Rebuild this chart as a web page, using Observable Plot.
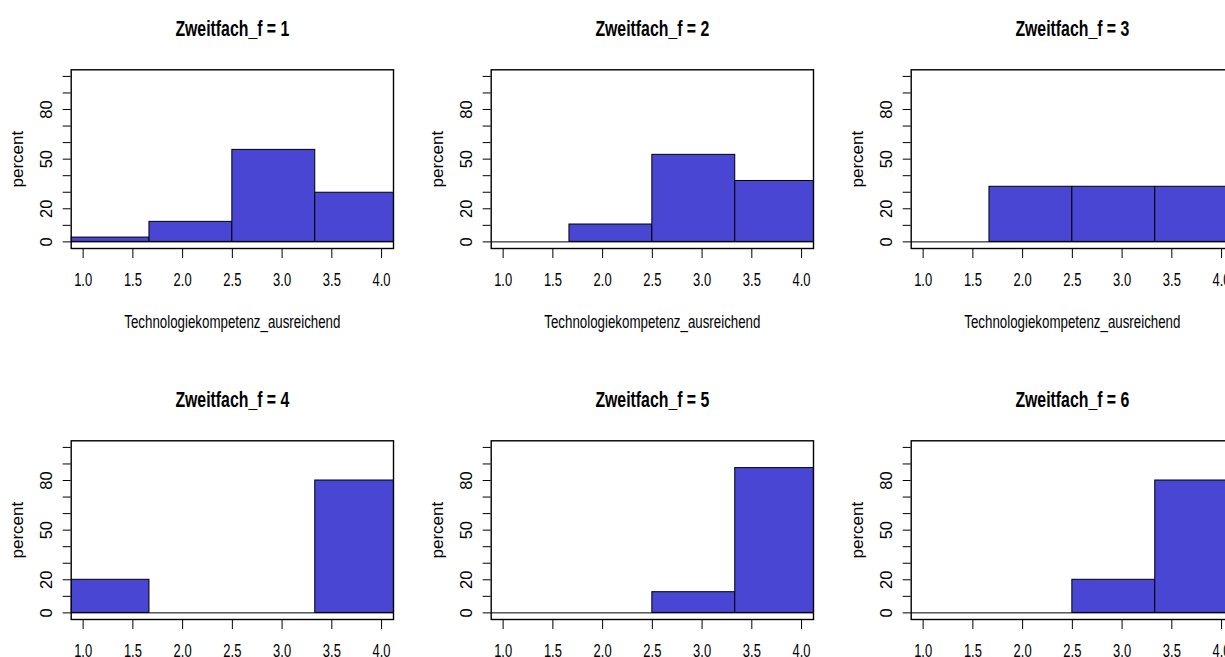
<!DOCTYPE html>
<html>
<head>
<meta charset="utf-8">
<script src="https://cdn.jsdelivr.net/npm/d3@7"></script>
<script src="https://cdn.jsdelivr.net/npm/@observablehq/plot@0.6"></script>
<style>
  html, body { margin: 0; padding: 0; background: #fff; }
  #wrap { position: relative; width: 1225px; height: 657px; overflow: hidden; background: #fff; }
  #wrap svg { position: absolute; overflow: visible; }
</style>
</head>
<body>
<div id="wrap"></div>
<script>
// ---- data ----
const panelTitles = ["Zweitfach_f = 1", "Zweitfach_f = 2", "Zweitfach_f = 3",
                     "Zweitfach_f = 4", "Zweitfach_f = 5", "Zweitfach_f = 6"];
const binBreaks = [5/6, 5/3, 2.5, 10/3, 25/6];
const percentF1 = [2.6, 12.1, 55.6, 29.7];
const percentF2 = [0, 10.5, 52.6, 36.8];
const percentF3 = [0, 33.3, 33.3, 33.3];
const percentF4 = [20, 0, 0, 80];
const percentF5 = [0, 0, 12.5, 87.5];
const percentF6 = [0, 0, 20, 80];
const xTicks = [1.0, 1.5, 2.0, 2.5, 3.0, 3.5, 4.0];
const yTicks = [0, 10, 20, 30, 40, 50, 60, 70, 80, 90, 100];
const yTickLabels = [0, 20, 50, 80];
const xLabel = "Technologiekompetenz_ausreichend";
const yLabel = "percent";

const series = [percentF1, percentF2, percentF3, percentF4, percentF5, percentF6];
const FILL = "#4946d3";
const FONT = "'Liberation Sans', Arial, sans-serif";
const SX = 0.72; // horizontal condensing of upright text

const wrap = document.getElementById("wrap");

series.forEach((vals, k) => {
  const col = k % 3, row = Math.floor(k / 3);
  const bins = vals.map((v, i) => ({x1: binBreaks[i], x2: binBreaks[i + 1], v}));
  const svg = Plot.plot({
    width: 420,
    height: 371,
    marginLeft: 70.7,
    marginRight: 27,
    marginTop: 69.3,
    marginBottom: 123,
    style: {fontFamily: FONT, color: "black", background: "transparent", overflow: "visible"},
    x: {domain: [0.88, 4.12], axis: null},
    y: {domain: [-4, 104], axis: null},
    marks: [
      Plot.rectY(bins, {x1: "x1", x2: "x2", y: "v", fill: FILL, stroke: "black", strokeWidth: 1, clip: true}),
      Plot.ruleY([0], {x1: binBreaks[0], x2: binBreaks[binBreaks.length - 1], stroke: "black", strokeWidth: 1, clip: true}),
      Plot.axisX({ticks: xTicks, tickSize: 10, tickPadding: 15, tickFormat: d3.format(".1f"), fontSize: 18,
        stroke: "black", strokeWidth: 1, label: null}),
      Plot.axisY({ticks: yTicks, tickSize: 8, tickFormat: () => "", stroke: "black", strokeWidth: 1, label: null}),
      Plot.text(yTickLabels, {y: d => d, text: d => String(d), frameAnchor: "left", dx: -24, rotate: -90,
        textAnchor: "middle", lineAnchor: "middle", fontSize: 16.5, fill: "black"}),
      Plot.text([yLabel], {frameAnchor: "left", dx: -54, rotate: -90, textAnchor: "middle",
        lineAnchor: "middle", fontSize: 17, fill: "black"}),
      Plot.text([panelTitles[k]], {frameAnchor: "top", dy: -40.6, lineAnchor: "middle",
        fontSize: 22, fontWeight: "bold", fill: "black"}),
      Plot.text([xLabel], {frameAnchor: "bottom", dy: 73.7, lineAnchor: "middle", fontSize: 18.5, fill: "black"}),
      Plot.frame({stroke: "black", strokeWidth: 1.4})
    ]
  });
  svg.style.left = (col * 420) + "px";
  svg.style.top = (row * 371) + "px";
  // condense upright text horizontally
  svg.querySelectorAll("text").forEach(t => {
    const tr = t.getAttribute("transform") || "";
    if (!tr.includes("rotate")) {
      t.setAttribute("transform", (tr + " scale(" + SX + ",1)").trim());
    }
  });
  wrap.appendChild(svg);
});
</script>
</body>
</html>
